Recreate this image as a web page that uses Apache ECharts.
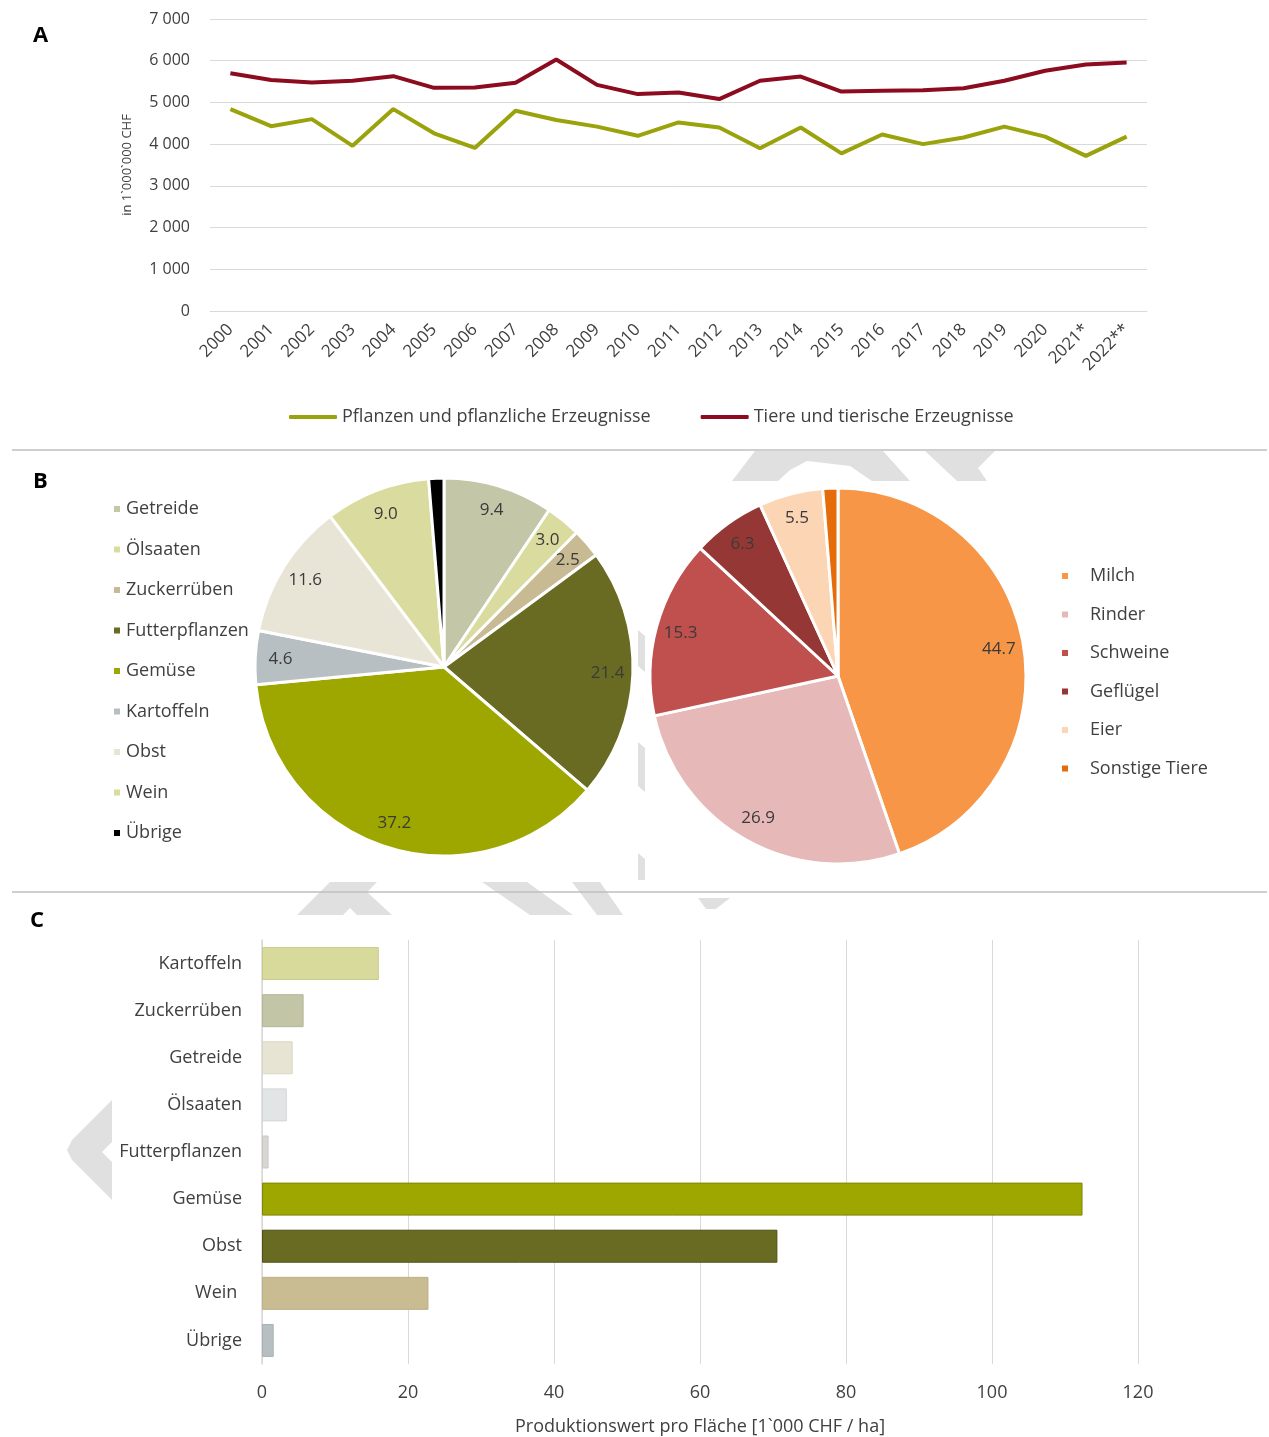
<!DOCTYPE html>
<html><head><meta charset="utf-8">
<script src="https://cdn.jsdelivr.net/npm/echarts@6/dist/echarts.min.js"></script>
<style>html,body{margin:0;padding:0;background:#fff}#c{width:1269px;height:1437px}</style>
</head><body><div id="c"></div>
<script>
// ---- Data ----
const years = ['2000','2001','2002','2003','2004','2005','2006','2007','2008','2009','2010','2011','2012','2013','2014','2015','2016','2017','2018','2019','2020','2021*','2022**'];
const pflanzen = [4840,4430,4600,3960,4840,4260,3910,4800,4580,4420,4200,4520,4400,3900,4400,3780,4230,4000,4160,4420,4180,3720,4180];
const tiere = [5700,5540,5480,5520,5630,5350,5360,5470,6030,5420,5200,5240,5080,5520,5620,5260,5280,5290,5340,5520,5760,5910,5960];
const lineNames = ['Pflanzen und pflanzliche Erzeugnisse','Tiere und tierische Erzeugnisse'];

const pie1Names = ['Getreide','Ölsaaten','Zuckerrüben','Futterpflanzen','Gemüse','Kartoffeln','Obst','Wein','Übrige'];
const pie1Values = [9.4,3.0,2.5,21.4,37.2,4.6,11.6,9.0,1.3];
const pie2Names = ['Milch','Rinder','Schweine','Geflügel','Eier','Sonstige Tiere'];
const pie2Values = [44.7,26.9,15.3,6.3,5.5,1.3];

const barCats = ['Kartoffeln','Zuckerrüben','Getreide','Ölsaaten','Futterpflanzen','Gemüse','Obst','Wein ','Übrige'];
const barValues = [16.0,5.7,4.2,3.4,0.9,112.4,70.6,22.8,1.6];

// ---- Styles ----
const pie1Colors = ['#c4c6a8','#d9dc9e','#c8bb94','#6a6b22','#9ea700','#b8bfc2','#e8e4d6','#d9dc9e','#000000'];
const pie2Colors = ['#f79646','#e6b9b8','#c0504d','#953735','#fcd5b5','#e46c0a'];
const barColors = ['#d8da9c','#c3c5a7','#e8e4d4','#e2e5e6','#d8d6d3','#9ea700','#6a6b22','#c9bb92','#b8bfc2'];
const barBorders = ['#c9cb8c','#b4b697','#dad6c4','#d3d6d7','#c9c7c4','#7f8700','#4d4e12','#bcae85','#a9b0b3'];
const FONT = '"Open Sans", Lato, sans-serif';
const TXT = '#404040';
const WM = '#e0e0e0';

const fmtK = v => String(v).replace(/\B(?=(\d{3})+(?!\d))/g, ' ');

const chart = echarts.init(document.getElementById('c'), null, {renderer:'canvas'});
const R = 189;

function pieData(names, values, colors) {
  return names.map((n,i)=>({name:n, value:values[i], itemStyle:{color:colors[i]}}));
}
function labelData(names, values) {
  return names.map((n,i)=>({name:n, value:values[i], label:{show: values[i] >= 2}}));
}
function poly(pts){ return {type:'polygon', z:-5, shape:{points:pts}, style:{fill:WM}, silent:true}; }

const option = {
  animation:false,
  textStyle:{fontFamily:FONT},
  grid:[
    {left:210, top:19, width:937, height:292},
    {left:262, top:940, width:876, height:424}
  ],
  legend:[
    {data:lineNames.map(n=>({name:n, icon:'roundRect'})), top:403, left:284, itemWidth:48, itemHeight:4, itemGap:50,
     textStyle:{fontSize:18, color:TXT, fontFamily:FONT}},
    {data:pie1Names, orient:'vertical', left:107, top:492, itemWidth:8, itemHeight:8, itemGap:16.5, icon:'rect',
     textStyle:{fontSize:18, color:TXT, fontFamily:FONT, lineHeight:24}},
    {data:pie2Names, orient:'vertical', left:1055, top:559, itemWidth:8, itemHeight:8, itemGap:14.5, icon:'rect',
     textStyle:{fontSize:18, color:TXT, fontFamily:FONT, lineHeight:24, padding:[0,0,0,16]}}
  ],
  xAxis:[
    {gridIndex:0, type:'category', data:years, boundaryGap:true,
     axisTick:{show:false}, axisLine:{lineStyle:{color:'#d9d9d9'}},
     axisLabel:{rotate:45, fontSize:17, color:TXT, margin:16, fontFamily:FONT}},
    {gridIndex:1, type:'value', min:0, max:120, interval:20,
     axisLabel:{fontSize:18, color:TXT, margin:20, fontFamily:FONT},
     splitLine:{lineStyle:{color:'#d9d9d9'}},
     name:'Produktionswert pro Fläche [1`000 CHF / ha]', nameLocation:'middle', nameGap:54,
     nameTextStyle:{fontSize:18, color:TXT, fontFamily:FONT}}
  ],
  yAxis:[
    {gridIndex:0, type:'value', min:0, max:7000, interval:1000,
     axisLabel:{fontSize:16, color:TXT, margin:20, formatter:fmtK, fontFamily:FONT},
     splitLine:{lineStyle:{color:'#d9d9d9'}},
     name:'in 1`000`000 CHF', nameLocation:'middle', nameRotate:90, nameGap:76,
     nameTextStyle:{fontSize:13, color:TXT, fontFamily:FONT}},
    {gridIndex:1, type:'category', data:barCats, inverse:true,
     axisTick:{show:false}, axisLine:{lineStyle:{color:'#d9d9d9', width:1.5}},
     axisLabel:{fontSize:18, color:TXT, margin:20, fontFamily:FONT}}
  ],
  series:[
    {name:lineNames[0], type:'line', xAxisIndex:0, yAxisIndex:0, data:pflanzen, symbol:'none',
     lineStyle:{width:4, color:'#9aa20c'}, itemStyle:{color:'#9aa20c'}},
    {name:lineNames[1], type:'line', xAxisIndex:0, yAxisIndex:0, data:tiere, symbol:'none',
     lineStyle:{width:4, color:'#8c0b1e'}, itemStyle:{color:'#8c0b1e'}},
    {type:'pie', center:[444,667], radius:[0,R], startAngle:90, data:pieData(pie1Names,pie1Values,pie1Colors),
     label:{show:false}, labelLine:{show:false}, itemStyle:{borderColor:'#fff', borderWidth:3}, silent:true},
    {type:'pie', center:[444,667], radius:[R*0.70,R], startAngle:90, data:labelData(pie1Names,pie1Values),
     itemStyle:{color:'rgba(0,0,0,0)', borderWidth:0}, silent:true, labelLine:{show:false},
     label:{position:'inside', fontSize:17, color:'#3a3a3a', fontFamily:FONT, formatter:p=>p.value.toFixed(1)}},
    {type:'pie', center:[838,676], radius:[0,R-1], startAngle:90, data:pieData(pie2Names,pie2Values,pie2Colors),
     label:{show:false}, labelLine:{show:false}, itemStyle:{borderColor:'#fff', borderWidth:3}, silent:true},
    {type:'pie', center:[838,676], radius:[R*0.70,R-1], startAngle:90, data:labelData(pie2Names,pie2Values),
     itemStyle:{color:'rgba(0,0,0,0)', borderWidth:0}, silent:true, labelLine:{show:false},
     label:{position:'inside', fontSize:17, color:'#3a3a3a', fontFamily:FONT, formatter:p=>p.value.toFixed(1)}},
    {type:'bar', xAxisIndex:1, yAxisIndex:1, barCategoryGap:'30%',
     data:barValues.map((v,i)=>({value:v, itemStyle:{color:barColors[i], borderColor:barBorders[i], borderWidth:1}}))}
  ],
  graphic:[
    // faint background watermark fragments
    poly([[732,481],[755,451],[883,451],[910,481],[872,481],[850,466],[807,461],[790,470],[778,481]]),
    poly([[925,451],[995,451],[978,468],[987,481],[957,481]]),
    poly([[330,882],[377,882],[367,892],[392,915],[357,915],[350,908],[343,915],[297,915]]),
    poly([[482,882],[527,882],[573,915],[530,915]]),
    poly([[572,882],[600,882],[623,915],[597,915]]),
    poly([[698,898],[730,898],[716,909],[706,909]]),
    poly([[112,1100],[112,1142],[102,1152],[112,1162],[112,1200],[72,1160],[67,1150],[72,1140]]),
    poly([[638,630],[645,636],[645,672],[638,666]]),
    poly([[638,742],[645,748],[645,792],[638,786]]),
    poly([[638,853],[645,859],[645,880],[638,880]]),
    {type:'text', left:33, top:25, style:{text:'A', font:'bold 22px '+FONT, fill:'#000'}},
    {type:'text', left:33, top:471, style:{text:'B', font:'bold 22px '+FONT, fill:'#000'}},
    {type:'text', left:30, top:910, style:{text:'C', font:'bold 22px '+FONT, fill:'#000'}},
    {type:'line', z:10, shape:{x1:12, y1:450, x2:1267, y2:450}, style:{stroke:'#bfbfbf', lineWidth:1.5}},
    {type:'line', z:10, shape:{x1:12, y1:892, x2:1267, y2:892}, style:{stroke:'#bfbfbf', lineWidth:1.5}}
  ]
};
chart.setOption(option);
</script></body></html>
